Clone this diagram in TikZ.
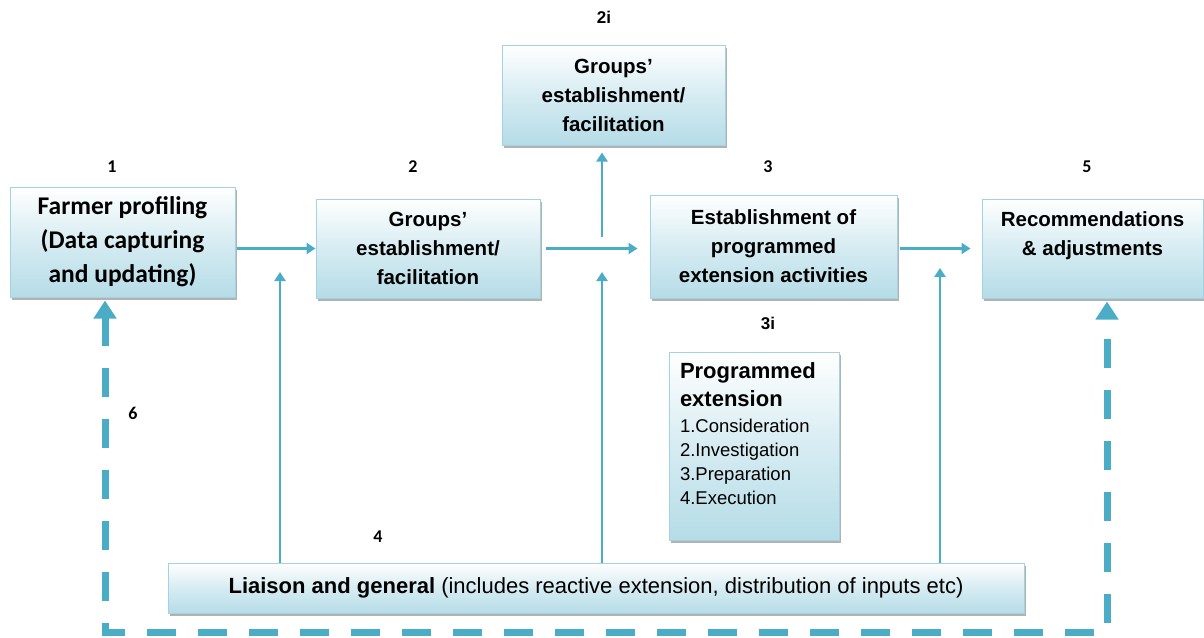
\documentclass[tikz,border=0pt]{standalone}
\usepackage{fontspec}
\setmainfont{Liberation Sans}
\newfontfamily\calfont{Carlito}
\usetikzlibrary{arrows.meta,shadows}
\definecolor{arrblue}{HTML}{4BACC6}
\definecolor{boxedge}{HTML}{A3D3E0}
\definecolor{boxbot}{HTML}{B5DCE7}
\begin{document}
\begin{tikzpicture}[x=1pt,y=-1pt,
  box/.style={draw=boxedge, line width=1pt, top color=white, bottom color=boxbot, middle color=boxbot!55,
    drop shadow={shadow xshift=1.5pt, shadow yshift=-2.5pt, fill=black, opacity=0.3},
    inner sep=2pt, align=center, font=\fontsize{20.5}{29}\selectfont\bfseries},
  arr/.style={draw=arrblue, line width=2.8pt, -{Triangle[width=11pt,length=9pt]}},
  dasharr/.style={draw=arrblue, line width=7pt, dash pattern=on 29pt off 22pt,
    {Triangle[width=22pt,length=18pt]}-{Triangle[width=22pt,length=18pt]}},
  numlab/.style={font=\calfont\bfseries\fontsize{18}{20}\selectfont, inner sep=0pt}
]
\useasboundingbox (0,0) rectangle (1204,637);

% boxes
\node[box, minimum width=225pt, minimum height=110pt, font=\calfont\bfseries\fontsize{25.5}{34}\selectfont]
  (b1) at (122.5,242) {Farmer profiling\\(Data capturing\\and updating)};
\node[box, minimum width=224pt, minimum height=99pt] (b2) at (428,248.5) {Groups’\\establishment/\\facilitation};
\node[box, minimum width=223pt, minimum height=100pt] (b2i) at (613.5,95) {Groups’\\establishment/\\facilitation};
\node[box, minimum width=247pt, minimum height=103pt] (b3) at (773.5,246.5) {Establishment of\\programmed\\extension activities};
\node[box, minimum width=221pt, minimum height=99pt] (b5) at (1092.5,248.5) {Recommendations\\\& adjustments\\\mbox{}};
\node[box, minimum width=170pt, minimum height=188pt, inner sep=0pt, align=left] (b3i) at (754,446)
  {\parbox[c][166pt][t]{148pt}{\raggedright\fontsize{22}{28}\selectfont\bfseries Programmed\\extension\par\vspace{2pt}
   \fontsize{18.5}{24}\selectfont\mdseries 1.Consideration\\2.Investigation\\3.Preparation\\4.Execution}};
\node[box, minimum width=856pt, minimum height=50pt, font=\fontsize{22}{24}\selectfont\mdseries] (b4) at (596,588)
  {\textbf{Liaison and general} (includes reactive extension, distribution of inputs etc)};

% number labels
\node[numlab] (n1) at (112,167) {1};
\node[numlab] (n2) at (413,167) {2};
\node[numlab, font=\bfseries\fontsize{17}{20}\selectfont] (n2i) at (604,17) {2i};
\node[numlab] (n3) at (768,167) {3};
\node[numlab] (n5) at (1087,167) {5};
\node[numlab, font=\bfseries\fontsize{17}{20}\selectfont] (n3i) at (768,323) {3i};
\node[numlab] (n4) at (378,537) {4};
\node[numlab] (n6) at (133,413) {6};

% coordinates
\coordinate (u1) at (280,272);
\coordinate (u2) at (602,272);
\coordinate (u3) at (940,268);
\coordinate (j) at (602,237);
\coordinate (d1) at (105,632);
\coordinate (d2) at (1107,632);

% horizontal flow arrows
\draw[arr, shorten <=1pt] (b1.east |- b2.west) -- (b2.west);
\draw[arr, shorten <=5pt, shorten >=12pt] (b2.east) -- (b2.east -| b3.west);
\draw[arr, shorten <=2pt, shorten >=11pt] (b3.east |- b5.west) -- (b5.west);
% up to 2i
\draw[arr, shorten >=7pt] (j) -- (j |- b2i.south);
% from liaison upward
\draw[arr] (b4.north -| u1) -- (u1);
\draw[arr] (b4.north -| u2) -- (u2);
\draw[arr] (b4.north -| u3) -- (u3);
% dashed feedback
\draw[dasharr, shorten <=3pt, shorten >=3pt] (b1.south -| d1) -- (d1) -- (d2) -- (b5.south -| d2);
\end{tikzpicture}
\end{document}
